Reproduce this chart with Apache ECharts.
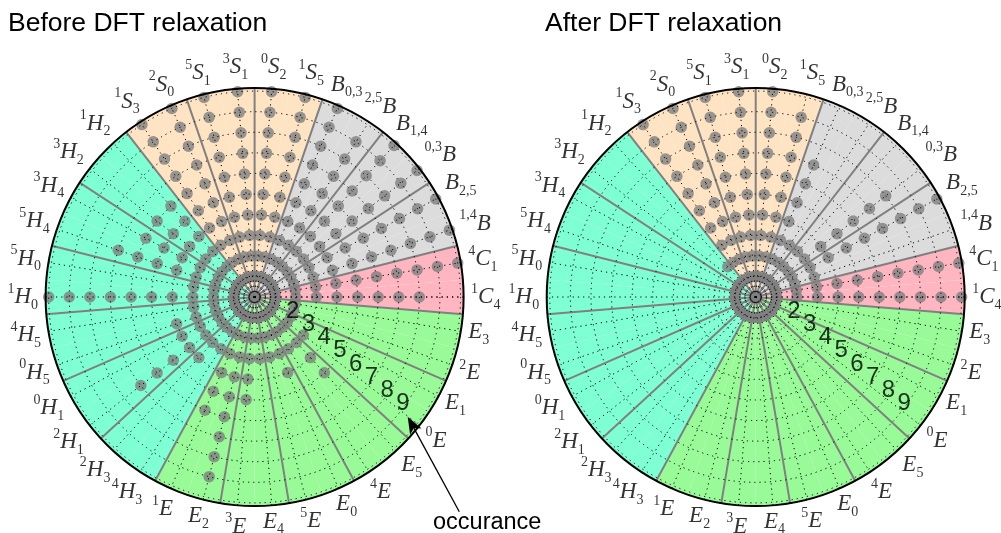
<!DOCTYPE html>
<html><head><meta charset="utf-8">
<script src="https://cdn.jsdelivr.net/npm/echarts@6/dist/echarts.min.js"></script>
<style>html,body{margin:0;padding:0;background:#fff}#c{width:1001px;height:533px}</style>
</head><body><div id="c"></div>
<script>
// ---- data ----
const conformations = [
  '^{1}C_{4}','^{4}C_{1}',
  '^{1,4}B','B_{2,5}','^{0,3}B','B_{1,4}','^{2,5}B','B_{0,3}',
  '^{1}S_{5}','^{0}S_{2}','^{3}S_{1}','^{5}S_{1}','^{2}S_{0}','^{1}S_{3}',
  '^{1}H_{2}','^{3}H_{2}','^{3}H_{4}','^{5}H_{4}','^{5}H_{0}','^{1}H_{0}',
  '^{4}H_{5}','^{0}H_{5}','^{0}H_{1}','^{2}H_{1}','^{2}H_{3}','^{4}H_{3}',
  '^{1}E','E_{2}','^{3}E','E_{4}','^{5}E','E_{0}',
  '^{4}E','E_{5}','^{0}E','E_{1}','^{2}E','E_{3}'
];
// occurrence counts per conformation (number of stacked dots)
const countsBefore = [8,10, 10,10,10,10,9,10, 10,10,10,10,10,10,
  6,6,6,7,3,10, 3,4,4,7,4,3,
  6,9,5,3,3,4, 3,5,3,2,2,2];
const countsAfter = [10,10, 3,10,8,3,3,7, 9,10,10,10,10,10,
  2,1,1,1,1,1, 1,1,1,1,1,1,
  1,1,1,1,1,1, 1,1,1,1,1,1];
const occurrenceTicks = [2,3,4,5,6,7,8,9];
const titles = ['Before DFT relaxation','After DFT relaxation'];
const familyColors = {C:'#FFB6C1', B:'#DCDCDC', S:'#FFE4C4', H:'#7FFFD4', E:'#98FB98'};

// ---- layout ----
const centers = [[254.6,297],[755.7,297]];
const RADIUS = 209;
const RMAX = 10.15;
const NUM_ANGLE = 319.9;
const step = 360 / conformations.length;
const MAIN_SIZE = 23, SMALL_SIZE = 14;
const MAIN_FONT = 'italic ' + MAIN_SIZE + 'px "Liberation Serif"';
const SMALL_FONT = SMALL_SIZE + 'px "Liberation Serif"';
const GAP = 7.5, HALF_MAIN = 9, HALF_SCRIPT = 14;

function parseLabel(s){
  const m = s.match(/^(?:\^\{([^}]*)\})?([A-Z])(?:_\{([^}]*)\})?$/);
  return {sup:m[1]||'', main:m[2], sub:m[3]||''};
}
function labelRich(s){
  const p = parseLabel(s);
  let out = '';
  if (p.sup) out += '{sp|' + p.sup + '}';
  out += '{m|' + p.main + '}';
  if (p.sub) out += '{sb|' + p.sub + '}';
  return out;
}
const mctx = document.createElement('canvas').getContext('2d');
function tw(s, font){ mctx.font = font; return mctx.measureText(s).width; }
function labelOffset(l, i){
  const p = parseLabel(l);
  const w = tw(p.main, MAIN_FONT) + (p.sup ? tw(p.sup, SMALL_FONT) : 0) + (p.sub ? tw(p.sub, SMALL_FONT) : 0);
  const up = p.sup ? HALF_SCRIPT : HALF_MAIN, down = p.sub ? HALF_SCRIPT : HALF_MAIN;
  const th = i * step * Math.PI / 180;
  const c = Math.cos(th), s = Math.sin(th);
  const tx = Math.abs(c) > 1e-6 ? (w/2)/Math.abs(c) : Infinity;
  const ty = Math.abs(s) > 1e-6 ? ((up+down)/2)/Math.abs(s) : Infinity;
  const d = GAP + Math.min(tx, ty);
  return [d*c, -d*s - (down-up)/2];
}
function dotsFrom(counts){
  const pts = [];
  counts.forEach((c,i)=>{ for(let n=1;n<=c;n++) pts.push([n,i]); });
  return pts;
}
const dotted = [1.2,4];
const rich = {
  m:{fontFamily:'Liberation Serif', fontStyle:'italic', fontSize:MAIN_SIZE, lineHeight:30, color:'#000', verticalAlign:'middle'},
  sp:{fontFamily:'Liberation Serif', fontSize:SMALL_SIZE, lineHeight:15, color:'#000', verticalAlign:'top'},
  sb:{fontFamily:'Liberation Serif', fontSize:SMALL_SIZE, lineHeight:15, color:'#000', verticalAlign:'bottom'}
};
const polar=[], angleAxis=[], radiusAxis=[], series=[];
[countsBefore, countsAfter].forEach((counts, c)=>{
  const pMain = 2*c, pGrid = 2*c+1;
  polar.push({center:centers[c], radius:RADIUS});
  polar.push({center:centers[c], radius:RADIUS});
  angleAxis.push({
    polarIndex:pMain, type:'category', data:conformations, boundaryGap:true,
    startAngle:-step/2, clockwise:false, z:3,
    axisLine:{show:true, lineStyle:{color:'#000', width:2}},
    axisTick:{show:false},
    splitLine:{show:true, interval:0, lineStyle:{color:'#808080', width:2}},
    axisLabel:{show:false}
  });
  angleAxis.push({
    polarIndex:pGrid, type:'value', min:0, max:360, interval:step,
    startAngle:0, clockwise:false, z:4,
    axisLine:{show:false}, axisTick:{show:false}, axisLabel:{show:false},
    splitLine:{show:true, lineStyle:{color:'#000', width:1, type:dotted}}
  });
  radiusAxis.push({
    polarIndex:pMain, type:'value', min:0, max:RMAX, interval:1, z:4,
    axisLine:{show:false}, axisTick:{show:false}, axisLabel:{show:false},
    splitLine:{show:true, lineStyle:{color:'#000', width:1, type:dotted}}
  });
  radiusAxis.push({
    polarIndex:pGrid, type:'value', min:0, max:RMAX, z:4,
    axisLine:{show:false}, axisTick:{show:false}, axisLabel:{show:false},
    splitLine:{show:false}
  });
  series.push({
    type:'bar', coordinateSystem:'polar', polarIndex:pMain, silent:true, z:1,
    barCategoryGap:'0%',
    data:conformations.map(l=>({value:RMAX, itemStyle:{color:familyColors[parseLabel(l).main]}}))
  });
  series.push({
    type:'scatter', coordinateSystem:'polar', polarIndex:pMain, silent:true, z:2,
    symbolSize:11.5, itemStyle:{color:'#808080'},
    data:dotsFrom(counts)
  });
  // conformation labels around the circle
  series.push({
    type:'scatter', coordinateSystem:'polar', polarIndex:pMain, silent:true, z:6,
    symbolSize:0.1, itemStyle:{color:'rgba(0,0,0,0)'},
    label:{show:true, position:'inside', align:'center', verticalAlign:'middle', rich,
      formatter:p=>labelRich(conformations[p.value[1]])},
    data:conformations.map((l,i)=>({value:[RMAX,i], label:{offset:labelOffset(l,i)}}))
  });
  // occurrence numbers
  series.push({
    type:'scatter', coordinateSystem:'polar', polarIndex:pGrid, silent:true, z:6,
    symbolSize:0.1, itemStyle:{color:'rgba(0,0,0,0)'},
    label:{show:true, position:'inside', offset:[6.6,-12.5], color:'#000',
      fontFamily:'Liberation Sans', fontSize:24, formatter:p=>String(p.value[0])},
    data:occurrenceTicks.map(n=>[n, NUM_ANGLE])
  });
});

const chart = echarts.init(document.getElementById('c'), null, {renderer:'canvas'});
chart.setOption({
  animation:false,
  backgroundColor:'#fff',
  title:[
    {text:titles[0], left:3, top:5, textStyle:{fontFamily:'Liberation Sans', fontSize:26.5, fontWeight:'normal', color:'#000'}},
    {text:titles[1], left:540, top:5, textStyle:{fontFamily:'Liberation Sans', fontSize:26.5, fontWeight:'normal', color:'#000'}}
  ],
  polar, angleAxis, radiusAxis, series,
  graphic:[
    {type:'line', z:10, shape:{x1:459.3,y1:511.7,x2:413.9,y2:428.1}, style:{stroke:'#000', lineWidth:1.3}},
    {type:'polygon', z:10, shape:{points:[[407.7,416.7],[421.5,428.5],[413.9,428.1],[410.1,434.7]]}, style:{fill:'#000'}},
    {type:'text', z:10, x:433, y:523, style:{text:'occurance', font:'23.5px "Liberation Sans"', fill:'#000', align:'left', verticalAlign:'middle'}}
  ]
});
</script></body></html>
